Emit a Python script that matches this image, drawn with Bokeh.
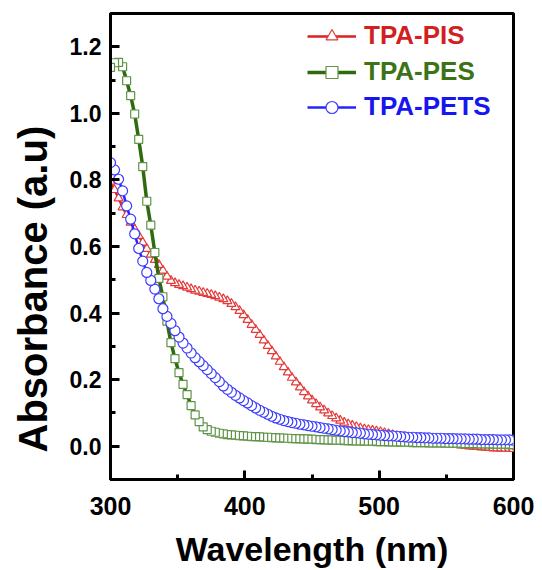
import math
from bokeh.plotting import figure
from bokeh.models import (Range1d, SingleIntervalTicker, PrintfTickFormatter, Legend, LegendItem,
                          Title, ColumnDataSource)
from bokeh.embed import file_html
from bokeh.resources import INLINE

wavelength = list(range(300, 601, 3))

tpa_pis = [0.795, 0.770, 0.745, 0.718, 0.695, 0.672, 0.652, 0.632, 0.612, 0.593,
           0.576, 0.560, 0.545, 0.528, 0.510, 0.497, 0.490, 0.485, 0.481, 0.477,
           0.472, 0.468, 0.465, 0.461, 0.458, 0.455, 0.451, 0.447, 0.442, 0.436,
           0.428, 0.418, 0.407, 0.394, 0.380, 0.365, 0.350, 0.335, 0.318, 0.302,
           0.286, 0.270, 0.254, 0.238, 0.222, 0.206, 0.192, 0.177, 0.163, 0.150,
           0.138, 0.127, 0.117, 0.108, 0.099, 0.091, 0.084, 0.077, 0.071, 0.066,
           0.062, 0.058, 0.054, 0.051, 0.049, 0.047, 0.045, 0.043, 0.040, 0.037,
           0.034, 0.031, 0.028, 0.026, 0.024, 0.022, 0.020, 0.018, 0.016, 0.014,
           0.012, 0.011, 0.009, 0.008, 0.006, 0.005, 0.004, 0.003, 0.002, 0.000,
           -0.001, -0.002, -0.003, -0.004, -0.005, -0.006, -0.006, -0.007, -0.007, -0.008,
           -0.008]

tpa_pes = [1.138, 1.152, 1.153, 1.140, 1.098, 1.053, 0.998, 0.922, 0.840, 0.736,
           0.664, 0.582, 0.504, 0.449, 0.376, 0.311, 0.263, 0.221, 0.186, 0.155,
           0.122, 0.094, 0.074, 0.058, 0.050, 0.045, 0.042, 0.039, 0.037, 0.035,
           0.034, 0.033, 0.032, 0.031, 0.030, 0.029, 0.029, 0.028, 0.027, 0.027,
           0.026, 0.025, 0.025, 0.024, 0.024, 0.023, 0.023, 0.022, 0.022, 0.021,
           0.021, 0.020, 0.020, 0.019, 0.019, 0.018, 0.018, 0.018, 0.017, 0.017,
           0.016, 0.016, 0.016, 0.015, 0.015, 0.015, 0.014, 0.014, 0.014, 0.013,
           0.013, 0.013, 0.012, 0.012, 0.012, 0.011, 0.011, 0.011, 0.011, 0.010,
           0.010, 0.010, 0.010, 0.009, 0.009, 0.009, 0.009, 0.008, 0.008, 0.008,
           0.008, 0.007, 0.007, 0.007, 0.007, 0.006, 0.006, 0.006, 0.006, 0.005,
           0.005]

tpa_pets = [0.852, 0.830, 0.802, 0.767, 0.722, 0.682, 0.638, 0.594, 0.556, 0.522,
            0.498, 0.472, 0.443, 0.413, 0.390, 0.369, 0.347, 0.328, 0.310, 0.295,
            0.280, 0.266, 0.254, 0.242, 0.230, 0.218, 0.206, 0.194, 0.181, 0.171,
            0.162, 0.153, 0.145, 0.137, 0.130, 0.122, 0.115, 0.108, 0.102, 0.096,
            0.090, 0.085, 0.081, 0.077, 0.074, 0.071, 0.069, 0.066, 0.064, 0.062,
            0.060, 0.058, 0.056, 0.054, 0.052, 0.050, 0.048, 0.046, 0.044, 0.043,
            0.041, 0.040, 0.039, 0.037, 0.036, 0.035, 0.034, 0.033, 0.032, 0.031,
            0.031, 0.030, 0.029, 0.028, 0.027, 0.027, 0.026, 0.026, 0.025, 0.025,
            0.024, 0.024, 0.024, 0.023, 0.023, 0.023, 0.022, 0.022, 0.022, 0.021,
            0.021, 0.021, 0.020, 0.020, 0.020, 0.020, 0.019, 0.019, 0.019, 0.019,
            0.018]

series_labels = ["TPA-PIS", "TPA-PES", "TPA-PETS"]
x_ticks_interval = 100
y_ticks_interval = 0.2

FONT = "Liberation Sans"

p = figure(width=542, height=570, output_backend="svg", toolbar_location=None,
           x_range=Range1d(300, 600), y_range=Range1d(-0.1, 1.3),
           min_border_left=106, min_border_right=29, min_border_top=13, min_border_bottom=90)
p.grid.visible = False
p.outline_line_color = "black"
p.outline_line_width = 3
p.background_fill_color = "white"
p.border_fill_color = "white"

p.xaxis.ticker = SingleIntervalTicker(interval=x_ticks_interval, num_minor_ticks=2)
p.yaxis.ticker = SingleIntervalTicker(interval=y_ticks_interval, num_minor_ticks=2)
p.yaxis.formatter = PrintfTickFormatter(format="%.1f")

for ax in (p.xaxis[0], p.yaxis[0]):
    ax.axis_line_width = 3
    ax.axis_line_color = "black"
    ax.major_tick_in = 9
    ax.major_tick_out = 0
    ax.minor_tick_in = 5
    ax.minor_tick_out = 0
    ax.major_tick_line_width = 3
    ax.minor_tick_line_width = 3
    ax.major_label_text_font = FONT
    ax.major_label_text_font_style = "bold"
    ax.major_label_text_color = "black"

p.xaxis.major_label_text_font_size = "25px"
p.xaxis.major_label_standoff = 17
p.yaxis.major_label_text_font_size = "23px"
p.yaxis.major_label_standoff = 9

p.xaxis.axis_label = "Wavelength (nm)"
p.xaxis.axis_label_text_font = FONT
p.xaxis.axis_label_text_font_style = "bold"
p.xaxis.axis_label_text_font_size = "34px"
p.xaxis.axis_label_text_color = "black"
p.xaxis.axis_label_standoff = 12

ytitle = Title(text="Absorbance (a.u)", align="left", offset=27, standoff=20,
               vertical_align="top", text_font=FONT, text_font_style="bold",
               text_font_size="40px", text_color="black")
p.add_layout(ytitle, "left")

styles = [
    dict(data=tpa_pis, line_color="#dc1f1f", line_width=2.5, marker="triangle", size=9,
         mcolor="#e43a3a", text="#d21f1f"),
    dict(data=tpa_pes, line_color="#2f6b0e", line_width=3.5, marker="square", size=8,
         mcolor="#5f9447", text="#3b7316"),
    dict(data=tpa_pets, line_color="#2424ff", line_width=2.5, marker="circle", size=10,
         mcolor="#3c3cff", text="#1616f0"),
]

legend_locs = [(197, 428), (197, 392), (197, 357)]

for lab, st, loc in zip(series_labels, styles, legend_locs):
    src = ColumnDataSource(dict(x=wavelength[::-1], y=st["data"][::-1]))
    rl = p.line("x", "y", source=src, line_color=st["line_color"], line_width=st["line_width"])
    rs = p.scatter("x", "y", source=src, marker=st["marker"], size=st["size"],
                   line_color=st["mcolor"], fill_color="white", line_width=1.2)
    leg = Legend(items=[LegendItem(label=lab, renderers=[rl, rs])], location=loc,
                 padding=0, margin=0, border_line_color=None, background_fill_alpha=0,
                 glyph_width=49, glyph_height=30, label_height=30, label_standoff=8,
                 label_text_font=FONT, label_text_font_style="bold",
                 label_text_font_size="26px", label_text_color=st["text"])
    p.add_layout(leg)

open("out.html", "w").write(file_html(p, INLINE))
